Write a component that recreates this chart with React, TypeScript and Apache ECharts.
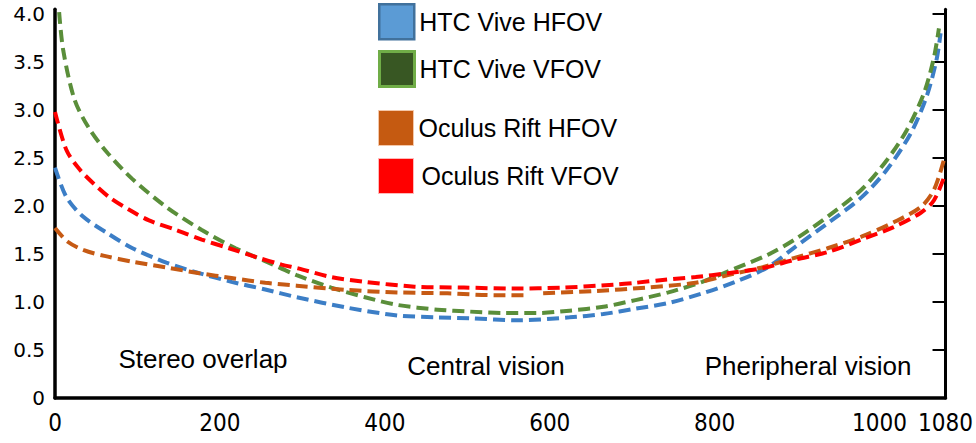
import React, { useEffect, useRef } from 'react';
import * as echarts from 'echarts';

// ---- data ----
const seriesNames = ['HTC Vive HFOV', 'HTC Vive VFOV', 'Oculus Rift HFOV', 'Oculus Rift VFOV'];

const xTickValues = [0, 200, 400, 600, 800, 1000, 1080];
const yTickValues = [0, 0.5, 1.0, 1.5, 2.0, 2.5, 3.0, 3.5, 4.0];

const regionLabels = ['Stereo overlap', 'Central vision', 'Pheripheral vision'];

const htcHfovX = [0, 14, 34, 63, 94, 135, 175, 214, 255, 293, 355, 415, 464, 503, 563, 624, 665, 704, 744, 785, 825, 864, 897, 937, 978, 1009, 1038, 1057, 1069, 1074];
const htcHfovY = [2.40, 2.09, 1.89, 1.72, 1.56, 1.41, 1.30, 1.21, 1.13, 1.05, 0.94, 0.86, 0.84, 0.83, 0.81, 0.84, 0.875, 0.93, 0.99, 1.09, 1.21, 1.36, 1.57, 1.82, 2.09, 2.38, 2.76, 3.14, 3.52, 3.80];

const htcVfovX = [5, 10, 24, 42, 64, 94, 135, 178, 219, 259, 293, 335, 376, 415, 464, 503, 544, 584, 624, 665, 704, 744, 785, 825, 864, 897, 937, 978, 1009, 1033, 1054, 1066, 1072];
const htcVfovY = [4.02, 3.62, 3.10, 2.80, 2.55, 2.28, 1.99, 1.75, 1.56, 1.41, 1.28, 1.15, 1.05, 0.97, 0.92, 0.90, 0.885, 0.885, 0.91, 0.95, 1.02, 1.10, 1.21, 1.35, 1.49, 1.65, 1.89, 2.17, 2.48, 2.79, 3.18, 3.55, 3.85];

const riftHfovX = [0, 15, 35, 60, 94, 135, 175, 214, 255, 293, 355, 415, 476, 536, 572, 582, 592, 656, 716, 777, 816, 857, 897, 937, 978, 1017, 1050, 1066, 1079];
const riftHfovY = [1.77, 1.63, 1.54, 1.48, 1.42, 1.36, 1.30, 1.25, 1.20, 1.17, 1.125, 1.10, 1.09, 1.07, 1.07, null, 1.09, 1.115, 1.15, 1.20, 1.28, 1.36, 1.46, 1.56, 1.68, 1.83, 1.99, 2.17, 2.51];

const riftVfovX = [0, 14, 30, 46, 66, 90, 114, 147, 178, 211, 243, 275, 295, 335, 376, 436, 496, 556, 616, 677, 704, 737, 777, 816, 857, 897, 937, 978, 1017, 1050, 1066, 1080];
const riftVfovY = [2.98, 2.58, 2.38, 2.24, 2.09, 1.96, 1.85, 1.75, 1.65, 1.56, 1.47, 1.39, 1.35, 1.26, 1.21, 1.16, 1.15, 1.14, 1.15, 1.18, 1.20, 1.23, 1.26, 1.30, 1.35, 1.44, 1.52, 1.65, 1.78, 1.93, 2.06, 2.34];

// ---- styles ----
const lineColors = ['#3C7EC6', '#5A8E3A', '#C65A14', '#FF0000'];
const legendItemStyles = [
  { color: '#5B9BD5', borderColor: '#41719C', borderWidth: 2.5 },
  { color: '#385723', borderColor: '#70AD47', borderWidth: 3 },
  { color: '#C55A11', borderColor: '#F4C7A8', borderWidth: 1 },
  { color: '#FF0000', borderColor: '#FFB8B8', borderWidth: 1 },
];
const legendTops = [3, 50, 110, 158];
const legendTextPad = [0, 0, 0, 3];

const zip = (xs: number[], ys: (number | null)[]) =>
  xs.map((x, i) => [x, ys[i] === null ? '-' : ys[i]]);

const seriesData = [
  zip(htcHfovX, htcHfovY),
  zip(htcVfovX, htcVfovY),
  zip(riftHfovX, riftHfovY),
  zip(riftVfovX, riftVfovY),
];

const regionPos = [
  [203, 359],
  [486, 366],
  [808, 366],
];

export default function App() {
  const ref = useRef<HTMLDivElement>(null);
  useEffect(() => {
    document.body.style.margin = '0';
    const chart = echarts.init(ref.current as HTMLDivElement, null, { renderer: 'svg' });
    const option: any = {
      animation: false,
      backgroundColor: '#ffffff',
      grid: { left: 55, right: 24, top: 9.2, bottom: 45, containLabel: false },
      xAxis: {
        type: 'value',
        min: 0,
        max: 1080,
        axisLine: { show: true, lineStyle: { color: '#000', width: 3.5 } },
        axisTick: { show: false },
        splitLine: { show: false },
        axisLabel: {
          customValues: xTickValues,
          formatter: (v: number) => String(v),
          showMinLabel: true,
          showMaxLabel: true,
          hideOverlap: false,
          color: '#000',
          fontFamily: '"DejaVu Sans Condensed", sans-serif',
          fontSize: 24,
          margin: 13,
        },
      },
      yAxis: [
        {
          type: 'value',
          min: 0,
          max: 4.05,
          position: 'left',
          axisLine: { show: true, onZero: false, lineStyle: { color: '#000', width: 3.5 } },
          axisTick: { show: false },
          splitLine: { show: false },
          axisLabel: {
            customValues: yTickValues,
            formatter: (v: number) => (v === 0 ? '0' : v.toFixed(1)),
            color: '#000',
            fontFamily: '"DejaVu Sans", sans-serif',
            fontSize: 20,
            margin: 10,
          },
        },
        {
          type: 'value',
          min: 0,
          max: 4.05,
          position: 'right',
          axisLine: { show: true, onZero: false, lineStyle: { color: '#000', width: 3 } },
          axisTick: {
            show: true,
            inside: true,
            length: 13,
            customValues: yTickValues,
            lineStyle: { color: '#000', width: 2 },
          },
          splitLine: { show: false },
          axisLabel: { show: false },
        },
      ],
      legend: seriesNames.map((n, i) => ({
        data: [{ name: n, icon: 'rect', itemStyle: legendItemStyles[i] }],
        left: 378,
        top: legendTops[i],
        padding: 0,
        itemWidth: 35,
        itemHeight: 35,
        itemGap: 0,
        selectedMode: false,
        textStyle: {
          fontFamily: '"Liberation Sans", Arial, sans-serif',
          fontSize: 25,
          color: '#000',
          padding: [0, 0, 0, legendTextPad[i]],
        },
      })),
      graphic: regionLabels.map((t, i) => ({
        type: 'text',
        x: regionPos[i][0],
        y: regionPos[i][1],
        silent: true,
        style: {
          text: t,
          fill: '#000',
          font: '26px "Liberation Sans", Arial, sans-serif',
          textAlign: 'center',
          textVerticalAlign: 'middle',
        },
      })),
      series: seriesNames.map((n, i) => ({
        name: n,
        type: 'line',
        data: seriesData[i],
        smooth: 0.3,
        symbol: 'none',
        showSymbol: false,
        connectNulls: false,
        itemStyle: { color: lineColors[i] },
        lineStyle: { color: lineColors[i], width: 4, type: [12, 6] },
      })),
    };
    chart.setOption(option);
    return () => chart.dispose();
  }, []);
  return (
    <div
      ref={ref}
      style={{ position: 'absolute', left: 0, top: 0, width: 976, height: 443, background: '#fff' }}
    />
  );
}
